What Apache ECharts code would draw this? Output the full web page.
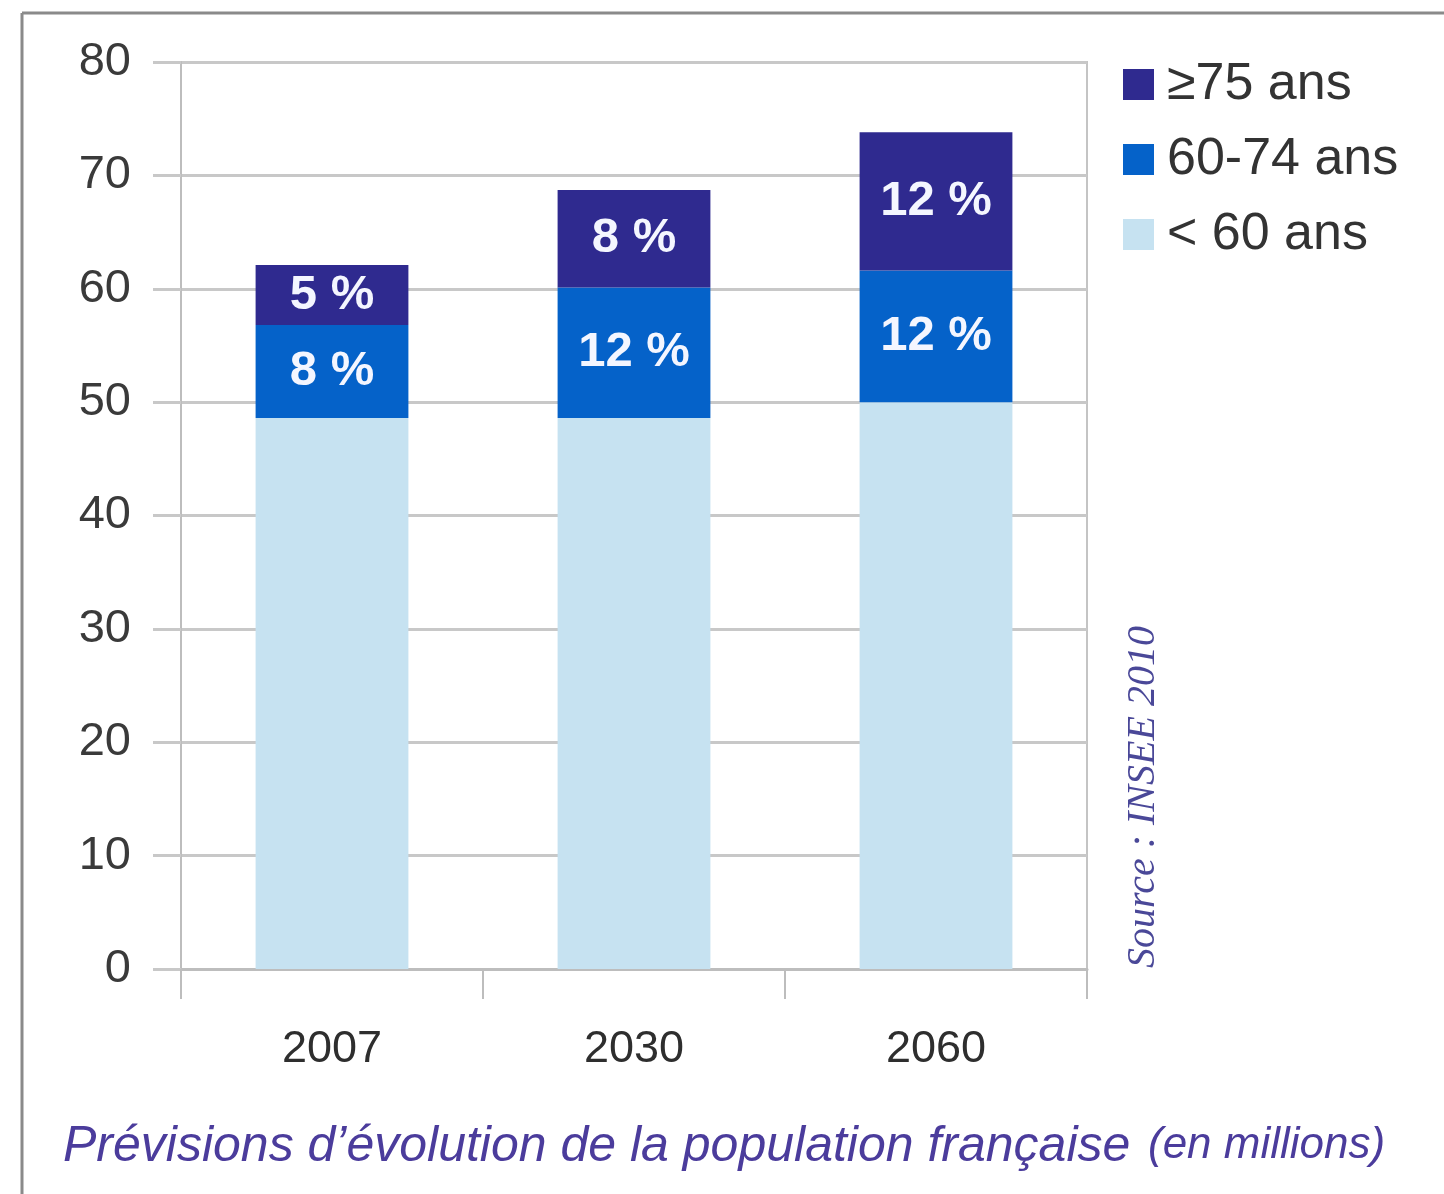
<!DOCTYPE html>
<html>
<head>
<meta charset="utf-8">
<script src="https://cdn.jsdelivr.net/npm/echarts@6/dist/echarts.min.js"></script>
<style>html,body{margin:0;padding:0;background:#fff}#c{width:1444px;height:1194px}</style>
</head>
<body>
<div id="c"></div>
<script>
const categories = ['2007', '2030', '2060'];
const under60 = [48.6, 48.6, 50.0];
const age60to74 = [8.2, 11.5, 11.6];
const over75 = [5.3, 8.6, 12.2];
const labels60to74 = ['8 %', '12 %', '12 %'];
const labelsOver75 = ['5 %', '8 %', '12 %'];
const seriesNames = ['< 60 ans', '60-74 ans', '≥75 ans'];
const yTicks = {min: 0, max: 80, interval: 10};

const chart = echarts.init(document.getElementById('c'));
const font = 'Liberation Sans, Arial, sans-serif';
const barLabel = (arr) => ({
  show: !!arr, position: 'inside', color: '#f4f6ff', fontSize: 49, fontWeight: 'bold', fontFamily: font,
  formatter: p => arr ? arr[p.dataIndex] : ''
});
chart.setOption({
  animation: false,
  backgroundColor: '#fff',
  grid: {left: 181, right: 357, top: 62, bottom: 225, show: true, borderColor: '#c4c4c4', borderWidth: 2},
  legend: {
    data: [seriesNames[2], seriesNames[1], seriesNames[0]],
    orient: 'vertical', left: 1118, top: 48,
    itemWidth: 31, itemHeight: 31, itemGap: 12, icon: 'rect',
    textStyle: {fontSize: 52, color: '#333', fontFamily: font, lineHeight: 63, padding: [0, 0, 0, 8]}
  },
  xAxis: {
    type: 'category', data: categories,
    axisLine: {lineStyle: {color: '#bdbdbd', width: 3}},
    axisTick: {show: true, length: 30, interval: 0, lineStyle: {color: '#bdbdbd', width: 2}},
    axisLabel: {fontSize: 45, color: '#2e2e2e', margin: 58, fontFamily: font}
  },
  yAxis: {
    type: 'value', min: yTicks.min, max: yTicks.max, interval: yTicks.interval,
    axisLine: {show: true, lineStyle: {color: '#bdbdbd', width: 2}},
    axisTick: {show: true, length: 28, lineStyle: {color: '#c8c8c8', width: 3}},
    splitLine: {lineStyle: {color: '#c8c8c8', width: 3}},
    axisLabel: {fontSize: 47, color: '#3a3a3a', margin: 50, fontFamily: font}
  },
  series: [
    {name: seriesNames[0], type: 'bar', stack: 'p', data: under60, barWidth: '50.6%', itemStyle: {color: '#c6e2f1'}, label: barLabel(null)},
    {name: seriesNames[1], type: 'bar', stack: 'p', data: age60to74, itemStyle: {color: '#0562c9'}, label: barLabel(labels60to74)},
    {name: seriesNames[2], type: 'bar', stack: 'p', data: over75, itemStyle: {color: '#2f2a8f'}, label: barLabel(labelsOver75)}
  ],
  graphic: [
    {type: 'line', shape: {x1: 22, y1: 13, x2: 1444, y2: 13}, style: {stroke: '#8a8a8a', lineWidth: 3}},
    {type: 'line', shape: {x1: 22, y1: 13, x2: 22, y2: 1194}, style: {stroke: '#8a8a8a', lineWidth: 3}},
    {type: 'text', x: 1143, y: 797, rotation: Math.PI / 2,
     style: {text: 'Source : INSEE 2010', fontFamily: 'Liberation Serif, serif', fontStyle: 'italic', fontSize: 40, fill: '#4a4898', align: 'center', verticalAlign: 'middle'}},
    {type: 'text', x: 63, y: 1172,
     style: {text: 'Prévisions d’évolution de la population française', fontFamily: font, fontStyle: 'italic', fontSize: 50, fill: '#4b3c9c', align: 'left', verticalAlign: 'bottom'}},
    {type: 'text', x: 1148, y: 1168,
     style: {text: '(en millions)', fontFamily: font, fontStyle: 'italic', fontSize: 44, fill: '#4b3c9c', align: 'left', verticalAlign: 'bottom'}}
  ]
});
</script>
</body>
</html>
